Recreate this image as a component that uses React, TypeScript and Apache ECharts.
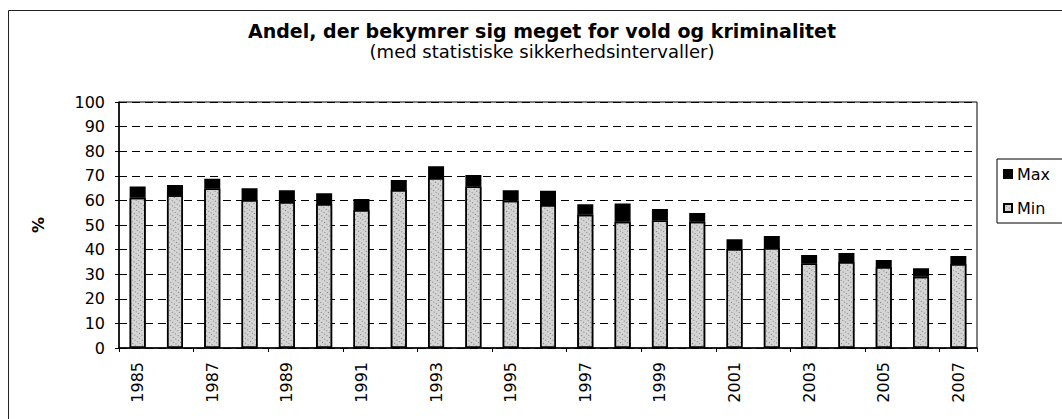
import React, { useEffect, useRef } from "react";
import * as echarts from "echarts";

const years = [
  "1985", "1986", "1987", "1988", "1989", "1990", "1991", "1992", "1993", "1994", "1995", "1996",
  "1997", "1998", "1999", "2000", "2001", "2002", "2003", "2004", "2005", "2006", "2007",
];
const maxValues = [
  65.6, 66.3, 68.8, 64.9, 64.1, 62.9, 60.6, 68.3, 73.9, 70.3, 64.1, 63.9,
  58.4, 58.7, 56.5, 54.9, 44.2, 45.5, 37.8, 38.6, 35.8, 32.4, 37.4,
];
const minValues = [
  61.1, 62.1, 64.8, 60.2, 59.3, 58.5, 56.1, 64.2, 69.1, 65.6, 59.9, 58.1,
  54.2, 51.3, 51.8, 51.3, 40.2, 40.7, 34.3, 35.0, 32.9, 29.0, 34.1,
];
const yTicks = { min: 0, max: 100, interval: 10 };
const titleText = "Andel, der bekymrer sig meget for vold og kriminalitet";
const subtitleText = "(med statistiske sikkerhedsintervaller)";
const yName = "%";

const FONT = "'DejaVu Sans', Arial, sans-serif";

export default function App() {
  const ref = useRef<HTMLDivElement>(null);
  useEffect(() => {
    if (!ref.current) return;
    const chart = echarts.init(ref.current, null, { renderer: "svg" });
    const spread = maxValues.map((v, i) => Math.round((v - minValues[i]) * 10) / 10);
    chart.setOption({
      animation: false,
      backgroundColor: "#ffffff",
      textStyle: { fontFamily: FONT, color: "#000" },
      title: [
        {
          text: titleText,
          left: 542,
          textAlign: "center",
          top: 21,
          padding: 0,
          textStyle: { fontFamily: FONT, fontWeight: "bold", fontSize: 19, lineHeight: 20, color: "#000" },
        },
        {
          text: subtitleText,
          left: 542,
          textAlign: "center",
          top: 42,
          padding: 0,
          textStyle: { fontFamily: FONT, fontWeight: "normal", fontSize: 18, lineHeight: 19, color: "#000" },
        },
      ],
      graphic: [
        {
          type: "rect",
          shape: { x: 8.5, y: 10.5, width: 1100, height: 500 },
          style: { fill: "none", stroke: "#222", lineWidth: 1 },
          silent: true,
        },
      ],
      legend: {
        orient: "vertical",
        left: 997,
        top: 159,
        data: ["Max", "Min"],
        itemWidth: 8,
        itemHeight: 8,
        itemGap: 18,
        padding: [7, 40, 7, 6],
        borderColor: "#000",
        borderWidth: 1,
        icon: "rect",
        textStyle: { fontFamily: FONT, fontSize: 16, color: "#000" },
      },
      grid: {
        left: 119,
        right: 85,
        top: 102,
        bottom: 71,
        show: true,
        borderColor: "#000",
        borderWidth: 1,
        containLabel: false,
      },
      xAxis: {
        type: "category",
        data: years,
        boundaryGap: true,
        axisLine: { lineStyle: { color: "#000", width: 1.5 } },
        axisTick: { show: true, length: 4, lineStyle: { color: "#000" } },
        axisLabel: {
          interval: 1,
          rotate: 90,
          margin: 14,
          fontSize: 16,
          fontFamily: FONT,
          color: "#000",
        },
        splitLine: { show: false },
      },
      yAxis: {
        type: "value",
        min: yTicks.min,
        max: yTicks.max,
        interval: yTicks.interval,
        name: yName,
        nameLocation: "middle",
        nameRotate: 90,
        nameGap: 73,
        nameTextStyle: { fontFamily: FONT, fontSize: 16, color: "#000", fontWeight: "bold" },
        axisLine: { show: true, lineStyle: { color: "#000", width: 1.5 } },
        axisTick: { show: true, length: 4, lineStyle: { color: "#000" } },
        axisLabel: { margin: 14, fontSize: 16, fontFamily: FONT, color: "#000" },
        splitLine: { show: true, lineStyle: { color: "#000", type: [8, 5], width: 1 } },
      },
      series: [
        {
          name: "Min",
          type: "bar",
          stack: "ci",
          data: minValues,
          barWidth: 16,
          itemStyle: {
            color: "#d4d4d4",
            borderColor: "#000",
            borderWidth: 1.5,
            decal: {
              symbol: "rect",
              symbolSize: 1,
              dashArrayX: [1, 2],
              dashArrayY: [1, 3],
              color: "rgba(60,60,60,0.55)",
              rotation: 0.6,
            },
          },
        },
        {
          name: "Max",
          type: "bar",
          stack: "ci",
          data: spread,
          barWidth: 16,
          itemStyle: { color: "#000", borderColor: "#000", borderWidth: 1.5 },
        },
      ],
    });
    return () => chart.dispose();
  }, []);
  return (
    <div
      ref={ref}
      style={{ position: "fixed", left: 0, top: 0, width: 1062, height: 419, background: "#fff" }}
    />
  );
}
